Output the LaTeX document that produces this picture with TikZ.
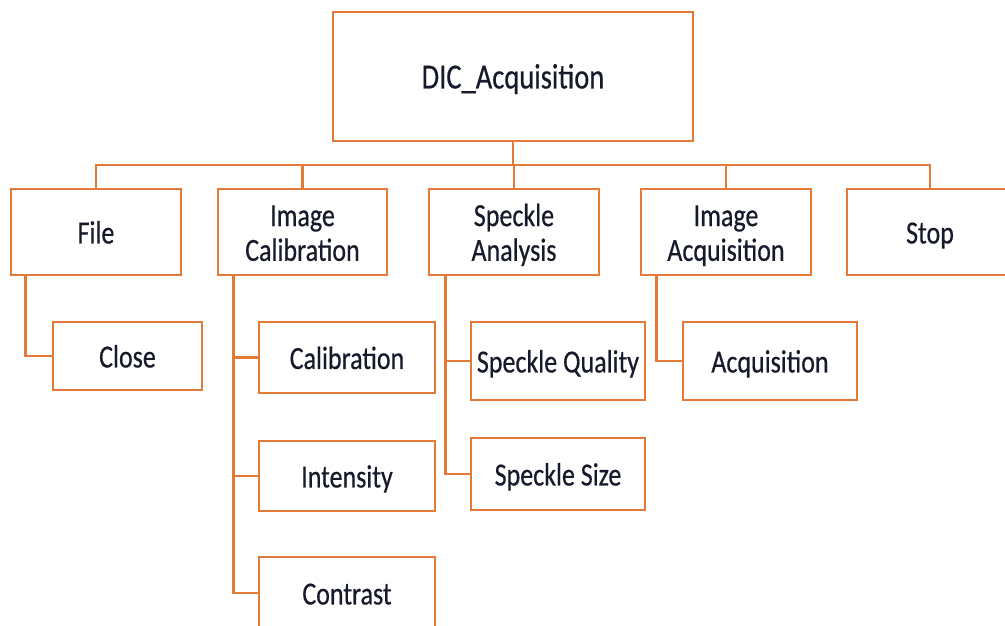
\documentclass[tikz,border=0pt]{standalone}
\usepackage{fontspec}
\setmainfont{Carlito}
\usepackage{graphicx}
\definecolor{boxorange}{HTML}{E47A38}
\definecolor{txt}{HTML}{161A2A}
\newcommand\lbl[1]{\raisebox{0pt}[\dimexpr\height+9pt\relax][\depth]{\scalebox{1}[1.24]{\begin{tabular}{@{}c@{}}#1\end{tabular}}}}
\tikzset{
  box/.style={draw=boxorange, line width=2.9pt, fill=white, inner sep=0pt,
    text=txt, font=\fontsize{26}{28}\selectfont\addfontfeature{FakeBold=0.5}, align=center},
  link/.style={draw=boxorange, line width=2.9pt}
}
\begin{document}
\begin{tikzpicture}[x=1pt,y=-1pt]
\useasboundingbox (0,0) rectangle (1005,625);
\clip (0,0) rectangle (1005,625);
\fill[white] (0,0) rectangle (1005,625);
\node[box, minimum width=360pt, minimum height=129pt, font=\fontsize{28.5}{30}\selectfont\addfontfeature{FakeBold=0.5}] (root) at (513,76.5) {\lbl{DIC\_Acquisition}};
\node[box, minimum width=170pt, minimum height=86pt] (file) at (96,232) {\lbl{File}};
\node[box, minimum width=169pt, minimum height=86pt] (imgcal) at (302.5,232) {\lbl{Image\\Calibration}};
\node[box, minimum width=170pt, minimum height=86pt] (spka) at (514,232) {\lbl{Speckle\\Analysis}};
\node[box, minimum width=170pt, minimum height=86pt] (imgacq) at (726,232) {\lbl{Image\\Acquisition}};
\node[box, minimum width=166pt, minimum height=86pt] (stop) at (930,232) {\lbl{Stop}};
\node[box, minimum width=149pt, minimum height=68pt] (close) at (127.5,356) {\lbl{Close}};
\node[box, minimum width=176pt, minimum height=71pt] (calib) at (347,357.5) {\lbl{Calibration}};
\node[box, minimum width=176pt, minimum height=70pt] (inten) at (347,476) {\lbl{Intensity}};
\node[box, minimum width=176pt, minimum height=72pt] (contr) at (347,593) {\lbl{Contrast}};
\node[box, minimum width=174pt, minimum height=78pt] (spkq) at (558,361) {\lbl{Speckle Quality}};
\node[box, minimum width=174pt, minimum height=72pt] (spks) at (558,474) {\lbl{Speckle Size}};
\node[box, minimum width=174pt, minimum height=78pt] (acq) at (770,361) {\lbl{Acquisition}};
\coordinate (bus) at (513,165);
\draw[link] (root.south) -- (bus);
\foreach \n in {file,imgcal,spka,imgacq,stop}{
  \draw[link] (\n.north) |- (bus);
}
\draw[link] ([xshift=16pt]file.south west) |- (close.west);
\draw[link] ([xshift=17pt]imgcal.south west) |- (contr.west);
\draw[link] ([xshift=17pt]imgcal.south west) |- (calib.west);
\draw[link] ([xshift=17pt]imgcal.south west) |- (inten.west);
\draw[link] ([xshift=18pt]spka.south west) |- (spks.west);
\draw[link] ([xshift=18pt]spka.south west) |- (spkq.west);
\draw[link] ([xshift=17pt]imgacq.south west) |- (acq.west);
\end{tikzpicture}
\end{document}
